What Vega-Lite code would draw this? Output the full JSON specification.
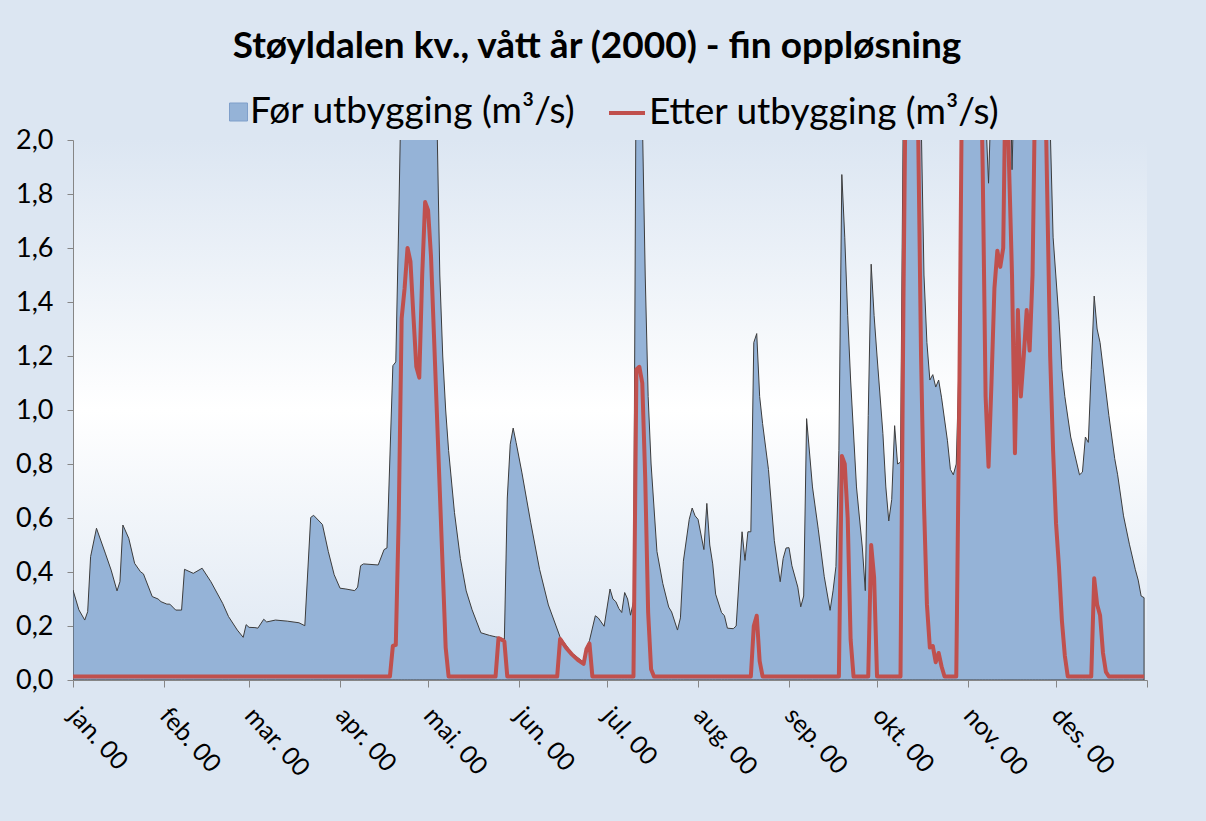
{
  "$schema": "https://vega.github.io/schema/vega-lite/v6.json",
  "width": 1074,
  "height": 540,
  "autosize": {"type": "none"},
  "padding": {"left": 73, "top": 140, "right": 59, "bottom": 141},
  "background": "#dce6f2",
  "title": {"text": "Støyldalen kv., vått år (2000) - fin oppløsning", "font": "Lato", "fontSize": 37, "fontWeight": "bold", "color": "#000000", "anchor": "middle", "frame": "group", "offset": 27, "dx": -13},
  "config": {
    "font": "Lato",
    "view": {"stroke": null, "fill": {"gradient": "linear", "x1": 0, "y1": 0, "x2": 0, "y2": 1, "stops": [{"offset": 0, "color": "#dce6f2"}, {"offset": 0.5, "color": "#ffffff"}, {"offset": 1, "color": "#dce6f2"}]}},
    "axis": {"grid": false, "domainColor": "#868686", "tickColor": "#868686", "labelColor": "#000000", "labelFont": "Lato", "title": null},
    "legend": {"orient": "top", "labelFont": "Lato", "labelFontSize": 37, "labelColor": "#000000", "labelLimit": 800, "title": null, "offset": 9, "layout": {"top": {"anchor": "middle", "margin": 31, "center": true}}}
  },
  "datasets": {
    "foer": [
      {"dato": "2000-01-01", "q": 0.333}, {"dato": "2000-01-03", "q": 0.26}, {"dato": "2000-01-05", "q": 0.222}, {"dato": "2000-01-06", "q": 0.253}, {"dato": "2000-01-07", "q": 0.457}, {"dato": "2000-01-09", "q": 0.562}, {"dato": "2000-01-12", "q": 0.47}, {"dato": "2000-01-14", "q": 0.407}, {"dato": "2000-01-16", "q": 0.33}, {"dato": "2000-01-17", "q": 0.364}, {"dato": "2000-01-18", "q": 0.574}, {"dato": "2000-01-20", "q": 0.525}, {"dato": "2000-01-22", "q": 0.432}, {"dato": "2000-01-24", "q": 0.401}, {"dato": "2000-01-25", "q": 0.393}, {"dato": "2000-01-28", "q": 0.309}, {"dato": "2000-01-30", "q": 0.3}, {"dato": "2000-01-31", "q": 0.29},
      {"dato": "2000-02-02", "q": 0.281}, {"dato": "2000-02-03", "q": 0.281}, {"dato": "2000-02-04", "q": 0.27}, {"dato": "2000-02-05", "q": 0.259}, {"dato": "2000-02-07", "q": 0.259}, {"dato": "2000-02-08", "q": 0.41}, {"dato": "2000-02-11", "q": 0.395}, {"dato": "2000-02-14", "q": 0.414}, {"dato": "2000-02-17", "q": 0.364}, {"dato": "2000-02-21", "q": 0.284}, {"dato": "2000-02-23", "q": 0.235}, {"dato": "2000-02-26", "q": 0.185}, {"dato": "2000-02-28", "q": 0.158}, {"dato": "2000-02-29", "q": 0.205},
      {"dato": "2000-03-01", "q": 0.195}, {"dato": "2000-03-03", "q": 0.194}, {"dato": "2000-03-04", "q": 0.192}, {"dato": "2000-03-06", "q": 0.225}, {"dato": "2000-03-07", "q": 0.215}, {"dato": "2000-03-10", "q": 0.222}, {"dato": "2000-03-14", "q": 0.218}, {"dato": "2000-03-18", "q": 0.212}, {"dato": "2000-03-20", "q": 0.201}, {"dato": "2000-03-22", "q": 0.602}, {"dato": "2000-03-23", "q": 0.61}, {"dato": "2000-03-26", "q": 0.576}, {"dato": "2000-03-28", "q": 0.476}, {"dato": "2000-03-30", "q": 0.39},
      {"dato": "2000-04-01", "q": 0.34}, {"dato": "2000-04-03", "q": 0.337}, {"dato": "2000-04-06", "q": 0.331}, {"dato": "2000-04-07", "q": 0.344}, {"dato": "2000-04-08", "q": 0.423}, {"dato": "2000-04-09", "q": 0.43}, {"dato": "2000-04-14", "q": 0.426}, {"dato": "2000-04-16", "q": 0.483}, {"dato": "2000-04-17", "q": 0.489}, {"dato": "2000-04-19", "q": 1.164}, {"dato": "2000-04-20", "q": 1.178}, {"dato": "2000-04-21", "q": 1.7}, {"dato": "2000-04-22", "q": 2.3}, {"dato": "2000-04-23", "q": 2.6}, {"dato": "2000-04-24", "q": 2.9}, {"dato": "2000-04-25", "q": 3.1}, {"dato": "2000-04-26", "q": 2.9}, {"dato": "2000-04-27", "q": 2.7}, {"dato": "2000-04-28", "q": 2.8}, {"dato": "2000-04-29", "q": 3.2}, {"dato": "2000-04-30", "q": 3.4},
      {"dato": "2000-05-01", "q": 3.2}, {"dato": "2000-05-02", "q": 2.8}, {"dato": "2000-05-03", "q": 2.4}, {"dato": "2000-05-04", "q": 2.1}, {"dato": "2000-05-05", "q": 1.5}, {"dato": "2000-05-06", "q": 1.2}, {"dato": "2000-05-07", "q": 1.0}, {"dato": "2000-05-08", "q": 0.85}, {"dato": "2000-05-10", "q": 0.62}, {"dato": "2000-05-12", "q": 0.45}, {"dato": "2000-05-14", "q": 0.33}, {"dato": "2000-05-16", "q": 0.26}, {"dato": "2000-05-19", "q": 0.175}, {"dato": "2000-05-22", "q": 0.165}, {"dato": "2000-05-24", "q": 0.16}, {"dato": "2000-05-25", "q": 0.158}, {"dato": "2000-05-26", "q": 0.155}, {"dato": "2000-05-27", "q": 0.15}, {"dato": "2000-05-28", "q": 0.674}, {"dato": "2000-05-29", "q": 0.873}, {"dato": "2000-05-30", "q": 0.933}, {"dato": "2000-05-31", "q": 0.88},
      {"dato": "2000-06-02", "q": 0.767}, {"dato": "2000-06-05", "q": 0.582}, {"dato": "2000-06-08", "q": 0.41}, {"dato": "2000-06-11", "q": 0.278}, {"dato": "2000-06-15", "q": 0.159}, {"dato": "2000-06-19", "q": 0.1}, {"dato": "2000-06-23", "q": 0.066}, {"dato": "2000-06-24", "q": 0.12}, {"dato": "2000-06-25", "q": 0.146}, {"dato": "2000-06-27", "q": 0.238}, {"dato": "2000-06-28", "q": 0.23}, {"dato": "2000-06-30", "q": 0.199},
      {"dato": "2000-07-02", "q": 0.337}, {"dato": "2000-07-03", "q": 0.3}, {"dato": "2000-07-04", "q": 0.29}, {"dato": "2000-07-05", "q": 0.265}, {"dato": "2000-07-06", "q": 0.25}, {"dato": "2000-07-07", "q": 0.324}, {"dato": "2000-07-08", "q": 0.3}, {"dato": "2000-07-09", "q": 0.24}, {"dato": "2000-07-10", "q": 0.29}, {"dato": "2000-07-11", "q": 2.5}, {"dato": "2000-07-12", "q": 2.8}, {"dato": "2000-07-13", "q": 2.1}, {"dato": "2000-07-14", "q": 1.5}, {"dato": "2000-07-15", "q": 1.05}, {"dato": "2000-07-16", "q": 0.8}, {"dato": "2000-07-18", "q": 0.476}, {"dato": "2000-07-20", "q": 0.357}, {"dato": "2000-07-22", "q": 0.27}, {"dato": "2000-07-23", "q": 0.252}, {"dato": "2000-07-25", "q": 0.185}, {"dato": "2000-07-26", "q": 0.23}, {"dato": "2000-07-27", "q": 0.44}, {"dato": "2000-07-29", "q": 0.595}, {"dato": "2000-07-30", "q": 0.637}, {"dato": "2000-07-31", "q": 0.608},
      {"dato": "2000-08-01", "q": 0.595}, {"dato": "2000-08-03", "q": 0.483}, {"dato": "2000-08-04", "q": 0.654}, {"dato": "2000-08-05", "q": 0.5}, {"dato": "2000-08-06", "q": 0.43}, {"dato": "2000-08-07", "q": 0.318}, {"dato": "2000-08-09", "q": 0.25}, {"dato": "2000-08-10", "q": 0.238}, {"dato": "2000-08-11", "q": 0.192}, {"dato": "2000-08-13", "q": 0.19}, {"dato": "2000-08-14", "q": 0.2}, {"dato": "2000-08-16", "q": 0.549}, {"dato": "2000-08-17", "q": 0.443}, {"dato": "2000-08-18", "q": 0.549}, {"dato": "2000-08-19", "q": 0.549}, {"dato": "2000-08-20", "q": 1.25}, {"dato": "2000-08-21", "q": 1.283}, {"dato": "2000-08-22", "q": 1.05}, {"dato": "2000-08-23", "q": 0.95}, {"dato": "2000-08-25", "q": 0.78}, {"dato": "2000-08-27", "q": 0.516}, {"dato": "2000-08-29", "q": 0.364}, {"dato": "2000-08-30", "q": 0.45}, {"dato": "2000-08-31", "q": 0.489},
      {"dato": "2000-09-01", "q": 0.49}, {"dato": "2000-09-02", "q": 0.423}, {"dato": "2000-09-04", "q": 0.344}, {"dato": "2000-09-05", "q": 0.271}, {"dato": "2000-09-06", "q": 0.311}, {"dato": "2000-09-07", "q": 0.968}, {"dato": "2000-09-09", "q": 0.715}, {"dato": "2000-09-11", "q": 0.556}, {"dato": "2000-09-13", "q": 0.384}, {"dato": "2000-09-15", "q": 0.258}, {"dato": "2000-09-16", "q": 0.33}, {"dato": "2000-09-17", "q": 0.42}, {"dato": "2000-09-18", "q": 0.85}, {"dato": "2000-09-19", "q": 1.872}, {"dato": "2000-09-20", "q": 1.64}, {"dato": "2000-09-21", "q": 1.35}, {"dato": "2000-09-22", "q": 1.111}, {"dato": "2000-09-24", "q": 0.715}, {"dato": "2000-09-26", "q": 0.489}, {"dato": "2000-09-27", "q": 0.331}, {"dato": "2000-09-28", "q": 0.979}, {"dato": "2000-09-29", "q": 1.54}, {"dato": "2000-09-30", "q": 1.35},
      {"dato": "2000-10-01", "q": 1.2}, {"dato": "2000-10-03", "q": 0.913}, {"dato": "2000-10-04", "q": 0.715}, {"dato": "2000-10-05", "q": 0.589}, {"dato": "2000-10-06", "q": 0.668}, {"dato": "2000-10-07", "q": 0.942}, {"dato": "2000-10-08", "q": 0.8}, {"dato": "2000-10-09", "q": 0.807}, {"dato": "2000-10-10", "q": 2.2}, {"dato": "2000-10-11", "q": 3.0}, {"dato": "2000-10-12", "q": 3.4}, {"dato": "2000-10-13", "q": 3.2}, {"dato": "2000-10-14", "q": 2.9}, {"dato": "2000-10-15", "q": 2.6}, {"dato": "2000-10-16", "q": 2.1}, {"dato": "2000-10-17", "q": 1.5}, {"dato": "2000-10-18", "q": 1.25}, {"dato": "2000-10-19", "q": 1.111}, {"dato": "2000-10-20", "q": 1.131}, {"dato": "2000-10-21", "q": 1.085}, {"dato": "2000-10-22", "q": 1.111}, {"dato": "2000-10-23", "q": 1.045}, {"dato": "2000-10-25", "q": 0.886}, {"dato": "2000-10-26", "q": 0.78}, {"dato": "2000-10-27", "q": 0.76}, {"dato": "2000-10-28", "q": 0.8}, {"dato": "2000-10-29", "q": 1.2}, {"dato": "2000-10-30", "q": 2.4}, {"dato": "2000-10-31", "q": 3.0},
      {"dato": "2000-11-01", "q": 3.4}, {"dato": "2000-11-02", "q": 3.6}, {"dato": "2000-11-03", "q": 3.3}, {"dato": "2000-11-04", "q": 3.0}, {"dato": "2000-11-05", "q": 2.7}, {"dato": "2000-11-06", "q": 2.4}, {"dato": "2000-11-07", "q": 2.1}, {"dato": "2000-11-08", "q": 1.84}, {"dato": "2000-11-09", "q": 2.2}, {"dato": "2000-11-10", "q": 2.6}, {"dato": "2000-11-11", "q": 2.9}, {"dato": "2000-11-12", "q": 3.1}, {"dato": "2000-11-13", "q": 3.2}, {"dato": "2000-11-14", "q": 2.9}, {"dato": "2000-11-15", "q": 2.5}, {"dato": "2000-11-16", "q": 1.89}, {"dato": "2000-11-17", "q": 2.3}, {"dato": "2000-11-18", "q": 2.6}, {"dato": "2000-11-19", "q": 2.5}, {"dato": "2000-11-20", "q": 2.7}, {"dato": "2000-11-21", "q": 2.8}, {"dato": "2000-11-22", "q": 2.9}, {"dato": "2000-11-23", "q": 3.0}, {"dato": "2000-11-24", "q": 3.2}, {"dato": "2000-11-25", "q": 3.3}, {"dato": "2000-11-26", "q": 3.0}, {"dato": "2000-11-27", "q": 2.7}, {"dato": "2000-11-28", "q": 2.4}, {"dato": "2000-11-29", "q": 2.05}, {"dato": "2000-11-30", "q": 1.64},
      {"dato": "2000-12-02", "q": 1.336}, {"dato": "2000-12-03", "q": 1.15}, {"dato": "2000-12-04", "q": 1.05}, {"dato": "2000-12-06", "q": 0.9}, {"dato": "2000-12-09", "q": 0.76}, {"dato": "2000-12-10", "q": 0.77}, {"dato": "2000-12-11", "q": 0.9}, {"dato": "2000-12-12", "q": 0.88}, {"dato": "2000-12-13", "q": 1.15}, {"dato": "2000-12-14", "q": 1.422}, {"dato": "2000-12-15", "q": 1.3}, {"dato": "2000-12-16", "q": 1.25}, {"dato": "2000-12-19", "q": 0.98}, {"dato": "2000-12-21", "q": 0.82}, {"dato": "2000-12-22", "q": 0.76}, {"dato": "2000-12-24", "q": 0.608}, {"dato": "2000-12-26", "q": 0.503}, {"dato": "2000-12-28", "q": 0.41}, {"dato": "2000-12-29", "q": 0.37}, {"dato": "2000-12-30", "q": 0.311}, {"dato": "2000-12-31", "q": 0.305}
    ],
    "etter": [
      {"dato": "2000-01-01", "q": 0.013}, {"dato": "2000-04-18", "q": 0.013}, {"dato": "2000-04-19", "q": 0.126}, {"dato": "2000-04-20", "q": 0.13}, {"dato": "2000-04-21", "q": 0.6}, {"dato": "2000-04-22", "q": 1.34}, {"dato": "2000-04-23", "q": 1.45}, {"dato": "2000-04-24", "q": 1.6}, {"dato": "2000-04-25", "q": 1.55}, {"dato": "2000-04-26", "q": 1.35}, {"dato": "2000-04-27", "q": 1.16}, {"dato": "2000-04-28", "q": 1.12}, {"dato": "2000-04-29", "q": 1.5}, {"dato": "2000-04-30", "q": 1.77},
      {"dato": "2000-05-01", "q": 1.74}, {"dato": "2000-05-02", "q": 1.57}, {"dato": "2000-05-03", "q": 1.28}, {"dato": "2000-05-04", "q": 0.99}, {"dato": "2000-05-05", "q": 0.7}, {"dato": "2000-05-06", "q": 0.41}, {"dato": "2000-05-07", "q": 0.12}, {"dato": "2000-05-08", "q": 0.013}, {"dato": "2000-05-24", "q": 0.013}, {"dato": "2000-05-25", "q": 0.155}, {"dato": "2000-05-26", "q": 0.15}, {"dato": "2000-05-27", "q": 0.143}, {"dato": "2000-05-28", "q": 0.013},
      {"dato": "2000-06-14", "q": 0.013}, {"dato": "2000-06-15", "q": 0.152}, {"dato": "2000-06-17", "q": 0.12}, {"dato": "2000-06-19", "q": 0.095}, {"dato": "2000-06-21", "q": 0.075}, {"dato": "2000-06-23", "q": 0.06}, {"dato": "2000-06-24", "q": 0.115}, {"dato": "2000-06-25", "q": 0.135}, {"dato": "2000-06-26", "q": 0.013},
      {"dato": "2000-07-10", "q": 0.013}, {"dato": "2000-07-11", "q": 1.15}, {"dato": "2000-07-12", "q": 1.16}, {"dato": "2000-07-13", "q": 1.1}, {"dato": "2000-07-14", "q": 0.75}, {"dato": "2000-07-15", "q": 0.25}, {"dato": "2000-07-16", "q": 0.04}, {"dato": "2000-07-17", "q": 0.013},
      {"dato": "2000-08-19", "q": 0.013}, {"dato": "2000-08-20", "q": 0.2}, {"dato": "2000-08-21", "q": 0.238}, {"dato": "2000-08-22", "q": 0.07}, {"dato": "2000-08-23", "q": 0.013},
      {"dato": "2000-09-18", "q": 0.013}, {"dato": "2000-09-19", "q": 0.83}, {"dato": "2000-09-20", "q": 0.8}, {"dato": "2000-09-21", "q": 0.6}, {"dato": "2000-09-22", "q": 0.15}, {"dato": "2000-09-23", "q": 0.013}, {"dato": "2000-09-28", "q": 0.013}, {"dato": "2000-09-29", "q": 0.5}, {"dato": "2000-09-30", "q": 0.38},
      {"dato": "2000-10-01", "q": 0.013}, {"dato": "2000-10-09", "q": 0.013}, {"dato": "2000-10-10", "q": 1.4}, {"dato": "2000-10-11", "q": 2.5}, {"dato": "2000-10-12", "q": 3.0}, {"dato": "2000-10-13", "q": 3.0}, {"dato": "2000-10-14", "q": 2.8}, {"dato": "2000-10-15", "q": 2.05}, {"dato": "2000-10-16", "q": 1.2}, {"dato": "2000-10-17", "q": 0.65}, {"dato": "2000-10-18", "q": 0.28}, {"dato": "2000-10-19", "q": 0.12}, {"dato": "2000-10-20", "q": 0.126}, {"dato": "2000-10-21", "q": 0.066}, {"dato": "2000-10-22", "q": 0.1}, {"dato": "2000-10-23", "q": 0.05}, {"dato": "2000-10-24", "q": 0.013}, {"dato": "2000-10-28", "q": 0.013}, {"dato": "2000-10-29", "q": 1.0}, {"dato": "2000-10-30", "q": 2.3}, {"dato": "2000-10-31", "q": 2.8},
      {"dato": "2000-11-01", "q": 3.2}, {"dato": "2000-11-02", "q": 3.3}, {"dato": "2000-11-03", "q": 3.0}, {"dato": "2000-11-04", "q": 2.8}, {"dato": "2000-11-05", "q": 2.5}, {"dato": "2000-11-06", "q": 1.9}, {"dato": "2000-11-07", "q": 1.05}, {"dato": "2000-11-08", "q": 0.79}, {"dato": "2000-11-09", "q": 1.1}, {"dato": "2000-11-10", "q": 1.45}, {"dato": "2000-11-11", "q": 1.59}, {"dato": "2000-11-12", "q": 1.53}, {"dato": "2000-11-13", "q": 1.6}, {"dato": "2000-11-14", "q": 2.4}, {"dato": "2000-11-15", "q": 1.9}, {"dato": "2000-11-16", "q": 1.5}, {"dato": "2000-11-17", "q": 0.84}, {"dato": "2000-11-18", "q": 1.37}, {"dato": "2000-11-19", "q": 1.05}, {"dato": "2000-11-20", "q": 1.2}, {"dato": "2000-11-21", "q": 1.37}, {"dato": "2000-11-22", "q": 1.22}, {"dato": "2000-11-23", "q": 1.5}, {"dato": "2000-11-24", "q": 2.3}, {"dato": "2000-11-25", "q": 2.5}, {"dato": "2000-11-26", "q": 2.4}, {"dato": "2000-11-27", "q": 2.4}, {"dato": "2000-11-28", "q": 1.8}, {"dato": "2000-11-29", "q": 1.2}, {"dato": "2000-11-30", "q": 0.85},
      {"dato": "2000-12-01", "q": 0.58}, {"dato": "2000-12-02", "q": 0.42}, {"dato": "2000-12-03", "q": 0.22}, {"dato": "2000-12-04", "q": 0.09}, {"dato": "2000-12-05", "q": 0.013}, {"dato": "2000-12-13", "q": 0.013}, {"dato": "2000-12-14", "q": 0.377}, {"dato": "2000-12-15", "q": 0.28}, {"dato": "2000-12-16", "q": 0.24}, {"dato": "2000-12-17", "q": 0.1}, {"dato": "2000-12-18", "q": 0.03}, {"dato": "2000-12-19", "q": 0.013}, {"dato": "2000-12-31", "q": 0.013}
    ]
  },
  "layer": [
    {
      "data": {"name": "foer"},
      "mark": {"type": "area", "clip": true, "stroke": "#3c3c3c", "strokeWidth": 1, "strokeJoin": "miter"},
      "encoding": {
        "x": {"field": "dato", "type": "temporal", "title": null,
          "scale": {"type": "utc", "domain": [{"year": 2000, "month": 1, "date": 1, "utc": true}, {"year": 2001, "month": 1, "date": 1, "utc": true}]},
          "axis": {"values": [
            {"year": 2000, "month": 1, "date": 1, "utc": true}, {"year": 2000, "month": 2, "date": 1, "utc": true}, {"year": 2000, "month": 3, "date": 1, "utc": true}, {"year": 2000, "month": 4, "date": 1, "utc": true}, {"year": 2000, "month": 5, "date": 1, "utc": true}, {"year": 2000, "month": 6, "date": 1, "utc": true}, {"year": 2000, "month": 7, "date": 1, "utc": true}, {"year": 2000, "month": 8, "date": 1, "utc": true}, {"year": 2000, "month": 9, "date": 1, "utc": true}, {"year": 2000, "month": 10, "date": 1, "utc": true}, {"year": 2000, "month": 11, "date": 1, "utc": true}, {"year": 2000, "month": 12, "date": 1, "utc": true}, {"year": 2001, "month": 1, "date": 1, "utc": true}],
            "labelExpr": "utcyear(datum.value) > 2000 ? '' : ['jan.','feb.','mar.','apr.','mai.','jun.','jul.','aug.','sep.','okt.','nov.','des.'][utcmonth(datum.value)] + ' 00'",
            "labelAngle": 48, "labelAlign": "left", "labelBaseline": "middle", "labelFontSize": 25, "labelPadding": 24, "labelDx": 17, "labelDy": -12, "tickSize": 7, "labelOverlap": false, "labelFlush": false, "title": null}
        },
        "y": {"field": "q", "type": "quantitative", "title": null,
          "scale": {"domain": [0, 2]},
          "axis": {"values": [0, 0.2, 0.4, 0.6, 0.8, 1.0, 1.2, 1.4, 1.6, 1.8, 2.0], "labelExpr": "replace(format(datum.value, '.1f'), '.', ',')", "labelFontSize": 27, "tickSize": 6, "labelPadding": 14, "title": null}
        },
        "fill": {"datum": "Før utbygging (m³/s)", "type": "nominal", "scale": {"range": ["#95b3d7"]},
          "legend": {"symbolType": "M-0.5,-0.5H0.5V0.5H-0.5Z", "symbolSize": 1296, "symbolStrokeColor": "#7f9fca", "symbolStrokeWidth": 1, "labelOffset": -7, "title": null}}
      }
    },
    {
      "data": {"name": "etter"},
      "mark": {"type": "line", "clip": true, "strokeWidth": 4, "strokeJoin": "round"},
      "encoding": {
        "x": {"field": "dato", "type": "temporal", "title": null},
        "y": {"field": "q", "type": "quantitative", "title": null},
        "stroke": {"datum": "Etter utbygging (m³/s)", "type": "nominal", "scale": {"range": ["#c0504d"]},
          "legend": {"symbolType": "stroke", "symbolSize": 1296, "symbolStrokeWidth": 4, "labelOffset": 2, "title": null}}
      }
    }
  ]
}
